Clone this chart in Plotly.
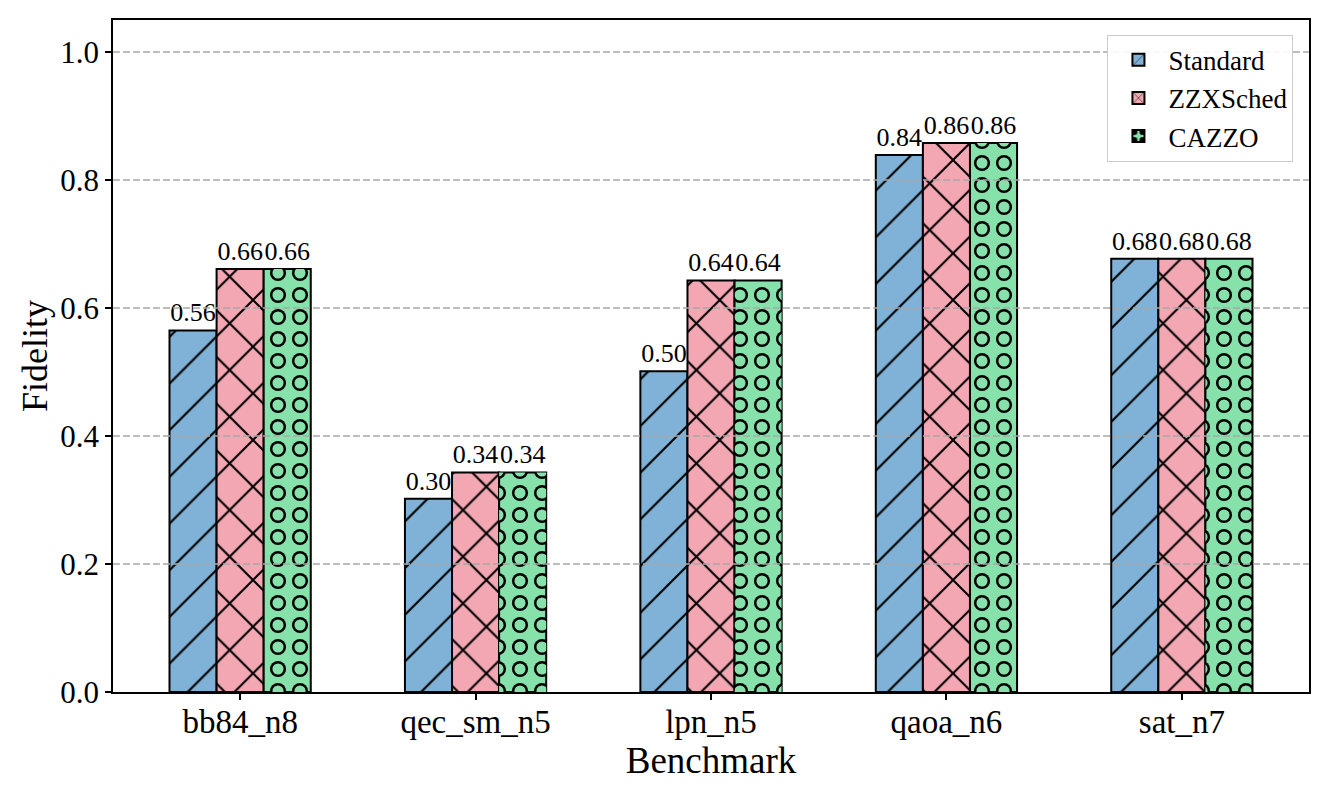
import plotly.graph_objects as go

benchmarks = ["bb84_n8", "qec_sm_n5", "lpn_n5", "qaoa_n6", "sat_n7"]
standard = [0.565, 0.302, 0.501, 0.839, 0.677]
zzxsched = [0.661, 0.343, 0.643, 0.858, 0.677]
cazzo = [0.661, 0.343, 0.643, 0.858, 0.677]
y_ticks = [0.0, 0.2, 0.4, 0.6, 0.8, 1.0]
series_names = ["Standard", "ZZXSched", "CAZZO"]

FONT = "Liberation Serif"
C_BLUE = "#7fb2d6"
C_PINK = "#f2a7b3"
C_GREEN = "#87e1aa"

xs = list(range(len(benchmarks)))
W = 0.2
TXT = dict(family=FONT, size=26, color="black")

fig = go.Figure()

fig.add_trace(go.Bar(
    x=xs, y=standard, name=series_names[0], width=W, offset=-1.5 * W,
    marker=dict(color=C_BLUE, line=dict(color="black", width=2),
                pattern=dict(shape="/", size=33, solidity=0.065, fgcolor="black",
                             fgopacity=1, fillmode="overlay")),
    texttemplate="%{y:.2f}", textposition="outside", cliponaxis=False,
    constraintext="none", textfont=TXT,
))
fig.add_trace(go.Bar(
    x=xs, y=zzxsched, name=series_names[1], width=W, offset=-0.5 * W,
    marker=dict(color=C_PINK, line=dict(color="black", width=2),
                pattern=dict(shape="x", size=33, solidity=0.12, fgcolor="black",
                             fgopacity=1, fillmode="overlay")),
    texttemplate="%{y:.2f}", textposition="outside", cliponaxis=False,
    constraintext="none", textfont=TXT,
))
fig.add_trace(go.Bar(
    x=xs, y=cazzo, name=series_names[2], width=W, offset=0.5 * W,
    marker=dict(color=C_GREEN, line=dict(color="black", width=2),
                pattern=dict(shape=".", size=22, solidity=0.42, fgcolor="black",
                             fgopacity=1, fillmode="overlay")),
    texttemplate="%{y:.2f}", textposition="outside", cliponaxis=False,
    constraintext="none", textfont=TXT,
))
# inner fill of the rings
fig.add_trace(go.Bar(
    x=xs, y=cazzo, name=series_names[2], width=W, offset=0.5 * W, showlegend=False,
    marker=dict(color="rgba(0,0,0,0)", line=dict(width=0),
                pattern=dict(shape=".", size=22, solidity=0.20, fgcolor=C_GREEN,
                             fgopacity=1, fillmode="overlay")),
    hoverinfo="skip",
))

# dashed grid lines drawn above the bars
for v in y_ticks[1:]:
    fig.add_shape(type="line", xref="paper", x0=0, x1=1, yref="y", y0=v, y1=v,
                  line=dict(color="#a8a8a8", width=1.4, dash="7px,3px"), layer="above")

fig.update_layout(
    width=1321, height=789,
    barmode="overlay",
    plot_bgcolor="white", paper_bgcolor="white",
    margin=dict(l=105, r=20, t=12, b=105, autoexpand=False),
    font=dict(family=FONT, color="black"),
    showlegend=True,
    legend=dict(x=0.987, y=0.978, xanchor="right", yanchor="top",
                bgcolor="rgba(255,255,255,0.9)", bordercolor="#cccccc", borderwidth=1,
                font=dict(family=FONT, size=27, color="black"),
                itemwidth=50),
)
fig.update_xaxes(
    range=[-0.54, 4.54], tickmode="array", tickvals=xs, ticktext=benchmarks,
    automargin=False,
    showline=True, linecolor="black", linewidth=1.5, mirror=True,
    ticks="outside", ticklen=6, tickwidth=1.5, tickcolor="black",
    showgrid=False, zeroline=False, ticklabelstandoff=-6,
    tickfont=dict(family=FONT, size=33, color="black"),
    title=dict(text="Benchmark", font=dict(family=FONT, size=37, color="black"), standoff=0),
)
fig.update_yaxes(
    range=[0, 1.05], tickmode="array", tickvals=y_ticks, tickformat=".1f",
    automargin=False,
    showline=True, linecolor="black", linewidth=1.5, mirror=True,
    ticks="outside", ticklen=6, tickwidth=1.5, tickcolor="black",
    showgrid=False, zeroline=False,
    tickfont=dict(family=FONT, size=31, color="black"),
    title=dict(text="Fidelity", font=dict(family=FONT, size=36, color="black"), standoff=2),
)

fig.write_html("out.html")
